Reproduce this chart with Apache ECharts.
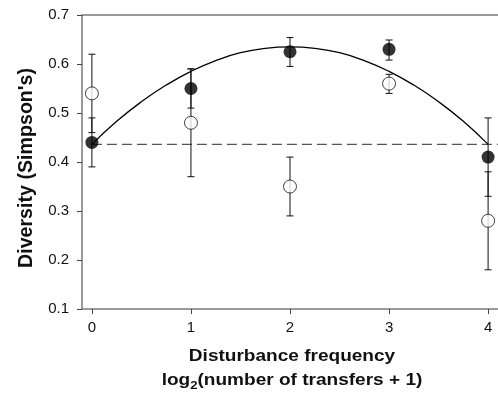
<!DOCTYPE html>
<html><head><meta charset="utf-8">
<script src="https://cdn.jsdelivr.net/npm/echarts@6/dist/echarts.min.js"></script>
<style>html,body{margin:0;padding:0;background:#fff}#c{width:498px;height:393px}</style>
</head><body><div id="c"></div>
<script>
const xCats = [0, 1, 2, 3, 4];
const filledMean = [0.44, 0.55, 0.625, 0.63, 0.41];
const filledLow  = [0.39, 0.51, 0.595, 0.608, 0.33];
const filledHigh = [0.49, 0.59, 0.654, 0.649, 0.49];
const openMean = [0.54, 0.48, 0.35, 0.56, 0.28];
const openLow  = [0.46, 0.37, 0.29, 0.54, 0.18];
const openHigh = [0.62, 0.59, 0.41, 0.579, 0.38];
const curveX = [0,0.25,0.5,0.75,1,1.25,1.5,1.75,2,2.25,2.5,2.75,3,3.25,3.5,3.75,4];
const curveY = [0.436,0.483,0.523,0.557,0.585,0.607,0.623,0.632,0.635,0.632,0.623,0.607,0.585,0.557,0.523,0.483,0.436];
const dashX = [0, 4.1];
const dashY = [0.436, 0.436];

const chart = echarts.init(document.getElementById('c'));
const axisColor = '#7a7a7a';
const tickFont = '"Liberation Sans", Arial';
function errSeries(lo, hi, name){
  return {
    type:'custom', name, z:3,
    data: xCats.map((x,i)=>[x, lo[i], hi[i]]),
    renderItem(params, api){
      const x = api.value(0);
      const a = api.coord([x, api.value(1)]);
      const b = api.coord([x, api.value(2)]);
      const w = 3.5;
      const st = {stroke:'#111', lineWidth:1};
      return {type:'group', children:[
        {type:'line', shape:{x1:a[0],y1:a[1],x2:b[0],y2:b[1]}, style:st},
        {type:'line', shape:{x1:a[0]-w,y1:a[1],x2:a[0]+w,y2:a[1]}, style:st},
        {type:'line', shape:{x1:b[0]-w,y1:b[1],x2:b[0]+w,y2:b[1]}, style:st}
      ]};
    }
  };
}
chart.setOption({
  animation:false,
  grid:{left:82, top:15, width:416, height:294},
  xAxis:[{
    type:'value', min:-0.1, max:4.1,
    axisLine:{show:true, onZero:false, lineStyle:{color:axisColor, width:1.5}},
    axisTick:{show:true, customValues:xCats, length:5, inside:false, lineStyle:{color:'#444'}},
    axisLabel:{customValues:xCats, color:'#111', fontSize:15, fontFamily:tickFont, margin:11},
    splitLine:{show:false}
  },{
    type:'value', min:-0.1, max:4.1, position:'top',
    axisLine:{show:true, onZero:false, lineStyle:{color:axisColor, width:1.5}},
    axisTick:{show:false}, axisLabel:{show:false}, splitLine:{show:false}
  }],
  yAxis:{
    type:'value', min:0.1, max:0.7, interval:0.1,
    axisLine:{show:true, onZero:false, lineStyle:{color:axisColor, width:1.5}},
    axisTick:{show:true, length:5, lineStyle:{color:'#444'}},
    axisLabel:{color:'#111', fontSize:15, fontFamily:tickFont, margin:13,
      formatter:v=>v.toFixed(1)},
    splitLine:{show:false}
  },
  graphic:[
    {type:'text', x:292, y:357, scaleX:1.19, style:{text:'Disturbance frequency', fill:'#111', font:'bold 16px "Liberation Sans", Arial', textAlign:'center', textVerticalAlign:'middle'}},
    {type:'text', x:292, y:381, scaleX:1.19, style:{
      text:'{a|log}{s|2}{a|(number of transfers + 1)}', textAlign:'center', textVerticalAlign:'middle',
      rich:{a:{fill:'#111', font:'bold 16px "Liberation Sans", Arial'}, s:{fill:'#111', font:'bold 11px "Liberation Sans", Arial', padding:[9,0,0,0]}}
    }},
    {type:'text', x:26, y:168, rotation:Math.PI/2, scaleX:1.155, scaleY:1.2, style:{text:"Diversity (Simpson's)", fill:'#111', font:'bold 17px "Liberation Sans", Arial', textAlign:'center', textVerticalAlign:'middle'}}
  ],
  series:[
    {type:'line', data:dashX.map((x,i)=>[x,dashY[i]]), symbol:'none', z:1,
      lineStyle:{color:'#555', width:1.2, type:[10,5]}},
    {type:'line', data:curveX.map((x,i)=>[x,curveY[i]]), symbol:'none', smooth:true, z:2,
      lineStyle:{color:'#000', width:1.3}},
    errSeries(openLow, openHigh, 'openErr'),
    errSeries(filledLow, filledHigh, 'filledErr'),
    {type:'scatter', z:5, data:xCats.map((x,i)=>[x, openMean[i]]), symbol:'circle', symbolSize:13,
      itemStyle:{color:'#fff', borderColor:'#111', borderWidth:1}},
    {type:'scatter', z:6, data:xCats.map((x,i)=>[x, filledMean[i]]), symbol:'circle', symbolSize:13,
      itemStyle:{color:'#000'}}
  ]
});
</script></body></html>
